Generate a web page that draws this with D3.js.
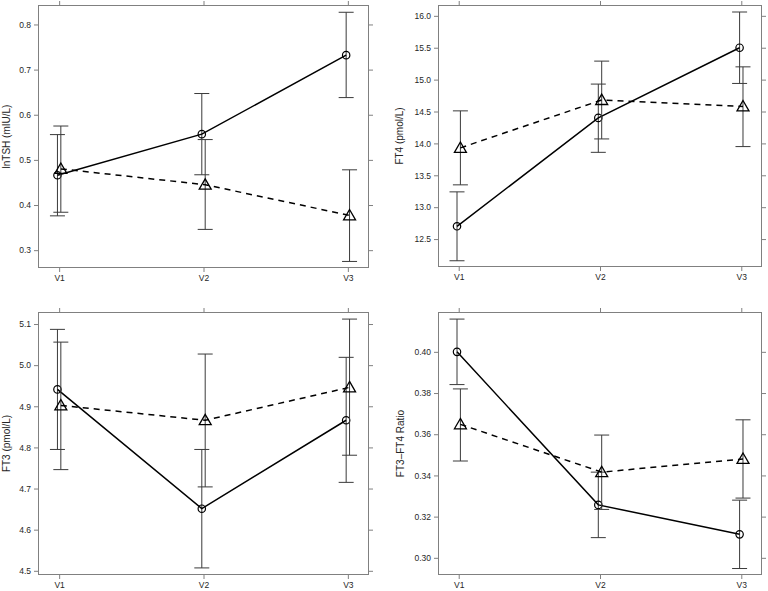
<!DOCTYPE html>
<html>
<head>
<meta charset="utf-8">
<script src="https://cdn.jsdelivr.net/npm/d3@7"></script>
<style>
  body { margin: 0; background: #fff; }
  svg { display: block; font-family: "Liberation Sans", Arial, Helvetica, sans-serif; }
</style>
</head>
<body>
<svg id="chart" width="768" height="591"></svg>
<script>
// visits on the x axis
const visits = ['V1', 'V2', 'V3']

// lnTSH
const tshCircle = [0.466, 0.557, 0.732]
const tshCircleLo = [0.376, 0.467, 0.638]
const tshCircleHi = [0.556, 0.647, 0.827]
const tshTriangle = [0.480, 0.445, 0.377]
const tshTriangleLo = [0.384, 0.346, 0.275]
const tshTriangleHi = [0.575, 0.545, 0.478]
const tshTicks = [0.3, 0.4, 0.5, 0.6, 0.7, 0.8]

// FT4
const ft4Circle = [12.70, 14.40, 15.50]
const ft4CircleLo = [12.16, 13.86, 14.94]
const ft4CircleHi = [13.24, 14.93, 16.06]
const ft4Triangle = [13.93, 14.68, 14.58]
const ft4TriangleLo = [13.35, 14.07, 13.95]
const ft4TriangleHi = [14.51, 15.29, 15.20]
const ft4Ticks = [12.5, 13.0, 13.5, 14.0, 14.5, 15.0, 15.5, 16.0]

// FT3
const ft3Circle = [4.941, 4.651, 4.866]
const ft3CircleLo = [4.795, 4.507, 4.715]
const ft3CircleHi = [5.087, 4.795, 5.019]
const ft3Triangle = [4.902, 4.866, 4.946]
const ft3TriangleLo = [4.746, 4.704, 4.781]
const ft3TriangleHi = [5.056, 5.027, 5.112]
const ft3Ticks = [4.5, 4.6, 4.7, 4.8, 4.9, 5.0, 5.1]

// FT3-FT4 ratio
const ratioCircle = [0.400, 0.3257, 0.3114]
const ratioCircleLo = [0.3841, 0.3098, 0.2948]
const ratioCircleHi = [0.4159, 0.3416, 0.3280]
const ratioTriangle = [0.3648, 0.3416, 0.3480]
const ratioTriangleLo = [0.3470, 0.3235, 0.3290]
const ratioTriangleHi = [0.3820, 0.3596, 0.3670]
const ratioTicks = [0.30, 0.32, 0.34, 0.36, 0.38, 0.40]

const panels = [
  {label: 'lnTSH (mIU/L)', ylim: [0.2616, 0.842], ticks: tshTicks, fmt: '.1f',
   circle: [tshCircle, tshCircleLo, tshCircleHi], triangle: [tshTriangle, tshTriangleLo, tshTriangleHi],
   box: [38.5, 368.5, 5.5, 267.5], labelX: 6},
  {label: 'FT4 (pmol/L)', ylim: [12.07, 16.162], ticks: ft4Ticks, fmt: '.1f',
   circle: [ft4Circle, ft4CircleLo, ft4CircleHi], triangle: [ft4Triangle, ft4TriangleLo, ft4TriangleHi],
   box: [438.5, 761.5, 5.5, 266.5], labelX: 399},
  {label: 'FT3 (pmol/L)', ylim: [4.491, 5.128], ticks: ft3Ticks, fmt: '.1f',
   circle: [ft3Circle, ft3CircleLo, ft3CircleHi], triangle: [ft3Triangle, ft3TriangleLo, ft3TriangleHi],
   box: [38.5, 368.5, 312.5, 574.5], labelX: 6},
  {label: 'FT3\u2013FT4 Ratio', ylim: [0.2919, 0.4191], ticks: ratioTicks, fmt: '.2f',
   circle: [ratioCircle, ratioCircleLo, ratioCircleHi], triangle: [ratioTriangle, ratioTriangleLo, ratioTriangleHi],
   box: [438.5, 761.5, 312.5, 574.5], labelX: 400}
]

const svg = d3.select('#chart')
const boxCol = '#808080'
const barCol = '#3a3a3a'
const textCol = '#262626'

function drawPanel(p) {
  let [x0, x1, y0, y1] = p.box
  let x = d3.scalePoint().domain(visits).range([x0, x1]).padding(0.143)
  let y = d3.scaleLinear().domain(p.ylim).range([y1, y0])
  let g = svg.append('g')

  // ticks on all four sides
  let sides = [
    [d3.axisBottom(x), `translate(0,${y1})`],
    [d3.axisTop(x).tickFormat(''), `translate(0,${y0})`],
    [d3.axisLeft(y).tickValues(p.ticks).tickFormat(d3.format(p.fmt)), `translate(${x0},0)`],
    [d3.axisRight(y).tickValues(p.ticks).tickFormat(''), `translate(${x1},0)`]
  ]
  sides.forEach(([axis, tr]) => {
    let a = g.append('g')
      .attr('transform', tr)
      .call(axis.tickSize(4.5).tickSizeOuter(0).tickPadding(3))
    a.select('.domain').remove()
    a.selectAll('line').attr('stroke', boxCol)
    a.selectAll('text')
      .attr('fill', textCol)
      .style('font-size', '8.5px')
      .style('font-family', '"Liberation Sans", Arial, sans-serif')
  })

  g.append('rect')
    .attr('x', x0).attr('y', y0)
    .attr('width', x1 - x0).attr('height', y1 - y0)
    .attr('fill', 'none').attr('stroke', boxCol).attr('stroke-width', 1)

  g.append('text')
    .attr('transform', `translate(${p.labelX},${(y0 + y1) / 2}) rotate(-90)`)
    .attr('text-anchor', 'middle')
    .attr('dominant-baseline', 'central')
    .attr('fill', textCol)
    .style('font-size', '10px')
    .text(p.label)

  let groups = [
    {vals: p.circle, dx: -1.7, dash: null, shape: 'circle'},
    {vals: p.triangle, dx: 1.7, dash: '6,5', shape: 'triangle'}
  ]

  groups.forEach(grp => {
    let [mean, lo, hi] = grp.vals
    let pts = visits.map((v, i) => ({x: x(v) + grp.dx, m: mean[i], lo: lo[i], hi: hi[i]}))

    // error bars
    let bars = g.append('g').attr('stroke', barCol).attr('stroke-width', 1)
    pts.forEach(d => {
      bars.append('line').attr('x1', d.x).attr('x2', d.x).attr('y1', y(d.lo)).attr('y2', y(d.hi))
      bars.append('line').attr('x1', d.x - 7.5).attr('x2', d.x + 7.5).attr('y1', y(d.lo)).attr('y2', y(d.lo))
      bars.append('line').attr('x1', d.x - 7.5).attr('x2', d.x + 7.5).attr('y1', y(d.hi)).attr('y2', y(d.hi))
    })

    g.append('path')
      .datum(pts)
      .attr('d', d3.line().x(d => d.x).y(d => y(d.m)))
      .attr('fill', 'none')
      .attr('stroke', '#000')
      .attr('stroke-width', 1.5)
      .attr('stroke-dasharray', grp.dash)

    if (grp.shape === 'circle') {
      g.selectAll(null).data(pts).enter().append('circle')
        .attr('cx', d => d.x).attr('cy', d => y(d.m)).attr('r', 3.7)
        .attr('fill', 'none').attr('stroke', '#000').attr('stroke-width', 1.2)
    } else {
      let tri = d3.symbol().type(d3.symbolTriangle).size(62)
      g.selectAll(null).data(pts).enter().append('path')
        .attr('d', tri)
        .attr('transform', d => `translate(${d.x},${y(d.m) + 1})`)
        .attr('fill', 'none').attr('stroke', '#000').attr('stroke-width', 1.3)
    }
  })
}

panels.forEach(drawPanel)
</script>
</body>
</html>
